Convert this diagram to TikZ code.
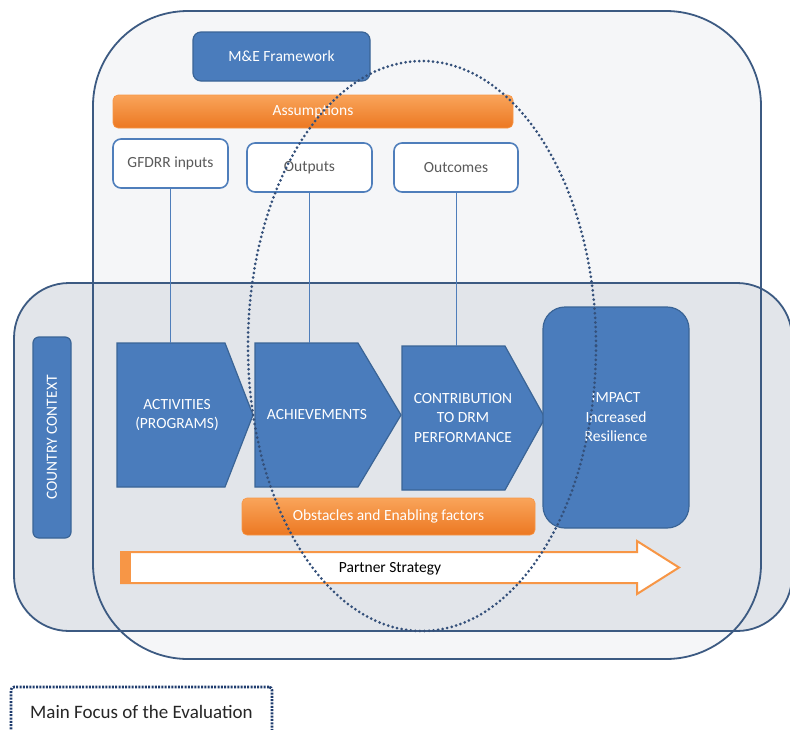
\documentclass[tikz,border=0pt]{standalone}
\usepackage{fontspec}
\setmainfont{Carlito}

\definecolor{outerfill}{HTML}{F5F6F8}
\definecolor{countryfill}{HTML}{E2E5EA}
\definecolor{frameline}{HTML}{3C5A82}
\definecolor{boxblue}{HTML}{4F7EBB}
\definecolor{shapeblue}{HTML}{4A7CBC}
\definecolor{shapeedge}{HTML}{3A6496}
\definecolor{orangelight}{HTML}{F9A45A}
\definecolor{orangemain}{HTML}{F79646}
\definecolor{orangedark}{HTML}{EC7822}
\definecolor{dotline}{HTML}{34507A}
\definecolor{legendline}{HTML}{1F3C6E}
\definecolor{textgray}{HTML}{5A5A5A}

\begin{document}
\begin{tikzpicture}[x=1pt,y=-1pt,
  basefont/.style={font=\fontsize{15.5}{19.5}\selectfont},
  framebox/.style={draw=frameline, line width=1.8},
  topbox/.style={basefont, draw=boxblue, line width=1.6, fill=white,
    rounded corners=8, text=textgray, inner sep=0, minimum height=49},
  bluebox/.style={basefont, draw=shapeedge, line width=1.2, fill=shapeblue,
    text=white, inner sep=0, align=center},
  chevfill/.style={fill=shapeblue, draw=shapeedge, line width=1.2},
  chevtext/.style={basefont, text=white, align=center, inner sep=0,
    minimum height=144},
  orangebar/.style={basefont, top color=orangelight, bottom color=orangedark,
    draw=orangemain, line width=0.6, text=white, inner sep=0, rounded corners=5},
  link/.style={draw=boxblue, line width=1},
  focus/.style={draw=dotline, line width=3, line cap=round,
    dash pattern=on 0pt off 4.6pt},
  legendbox/.style={draw=legendline, line width=2.6,
    dash pattern=on 2pt off 1.3pt, rounded corners=3, inner sep=0,
    font=\fontsize{19}{22}\selectfont, text=black!85}
]
\useasboundingbox (0,0) rectangle (790,729);
\clip (0,0) rectangle (790,729);
\fill[white] (0,0) rectangle (790,729);

% the two context areas: framework (upper) and country (lower band)
\fill[outerfill, rounded corners=95] (93,11) rectangle (761,659);
\fill[countryfill, rounded corners=55] (14,283) rectangle (792,631);
\draw[framebox, rounded corners=95] (93,11) rectangle (761,659);
\draw[framebox, rounded corners=55] (14,283) rectangle (792,631);

% framework header, assumptions and the three result levels
\node[bluebox, minimum width=177, minimum height=49, rounded corners=8]
  (me) at (281.5,56.5) {M\&E Framework};
\node[orangebar, minimum width=400, minimum height=33]
  (assump) at (313,111.5) {Assumptions};
\node[topbox, minimum width=115] (gfdrr) at (170.5,163.5) {GFDRR inputs};
\node[topbox, minimum width=125] (outputs) at (309.5,167.5) {Outputs};
\node[topbox, minimum width=124] (outcomes) at (456,167.5) {Outcomes};

% country context label
\node[bluebox, minimum width=201, minimum height=38, rounded corners=6,
  rotate=90] (country) at (52,437.5) {COUNTRY CONTEXT};

% results chain chevrons
\filldraw[chevfill] (117,343) -- (225,343) -- (253,415) -- (225,487)
  -- (117,487) -- cycle;
\filldraw[chevfill] (255,343) -- (358,343) -- (401,415) -- (358,487)
  -- (255,487) -- cycle;
\filldraw[chevfill] (402,346) -- (505,346) -- (545,418) -- (505,490)
  -- (402,490) -- cycle;
\node[chevtext] (act) at (177,415) {ACTIVITIES\\(PROGRAMS)};
\node[chevtext] (ach) at (317,415) {ACHIEVEMENTS};
\node[chevtext] (contrib) at (463,418) {CONTRIBUTION\\TO DRM\\PERFORMANCE};

\node[bluebox, minimum width=146, minimum height=221, rounded corners=22]
  (impact) at (616,417.5) {IMPACT\\Increased\\Resilience};

% links from result levels down to the chain
\draw[link] (gfdrr.south) -- (gfdrr.south |- act.north);
\draw[link] (outputs.south) -- (outputs.south |- ach.north);
\draw[link] (outcomes.south) -- (outcomes.south |- contrib.north);

% obstacles bar
\node[orangebar, minimum width=293, minimum height=37]
  (obst) at (388.5,516.5) {Obstacles and Enabling factors};

% partner strategy arrow
\filldraw[fill=white, draw=orangemain, line width=2, line join=miter]
  (121,552) -- (637,552) -- (637,541) -- (679,567.5) -- (637,594)
  -- (637,583) -- (121,583) -- cycle;
\fill[orangemain] (120,551) rectangle (131,584);
\node[basefont, text=black, inner sep=0] (partner) at (390,569)
  {Partner Strategy};

% main focus of the evaluation
\draw[focus] (422,346) ellipse [x radius=174, y radius=285];

% legend
\node[legendbox, minimum width=261, minimum height=50]
  (legend) at (141.5,712) {Main Focus of the Evaluation};
\end{tikzpicture}
\end{document}
